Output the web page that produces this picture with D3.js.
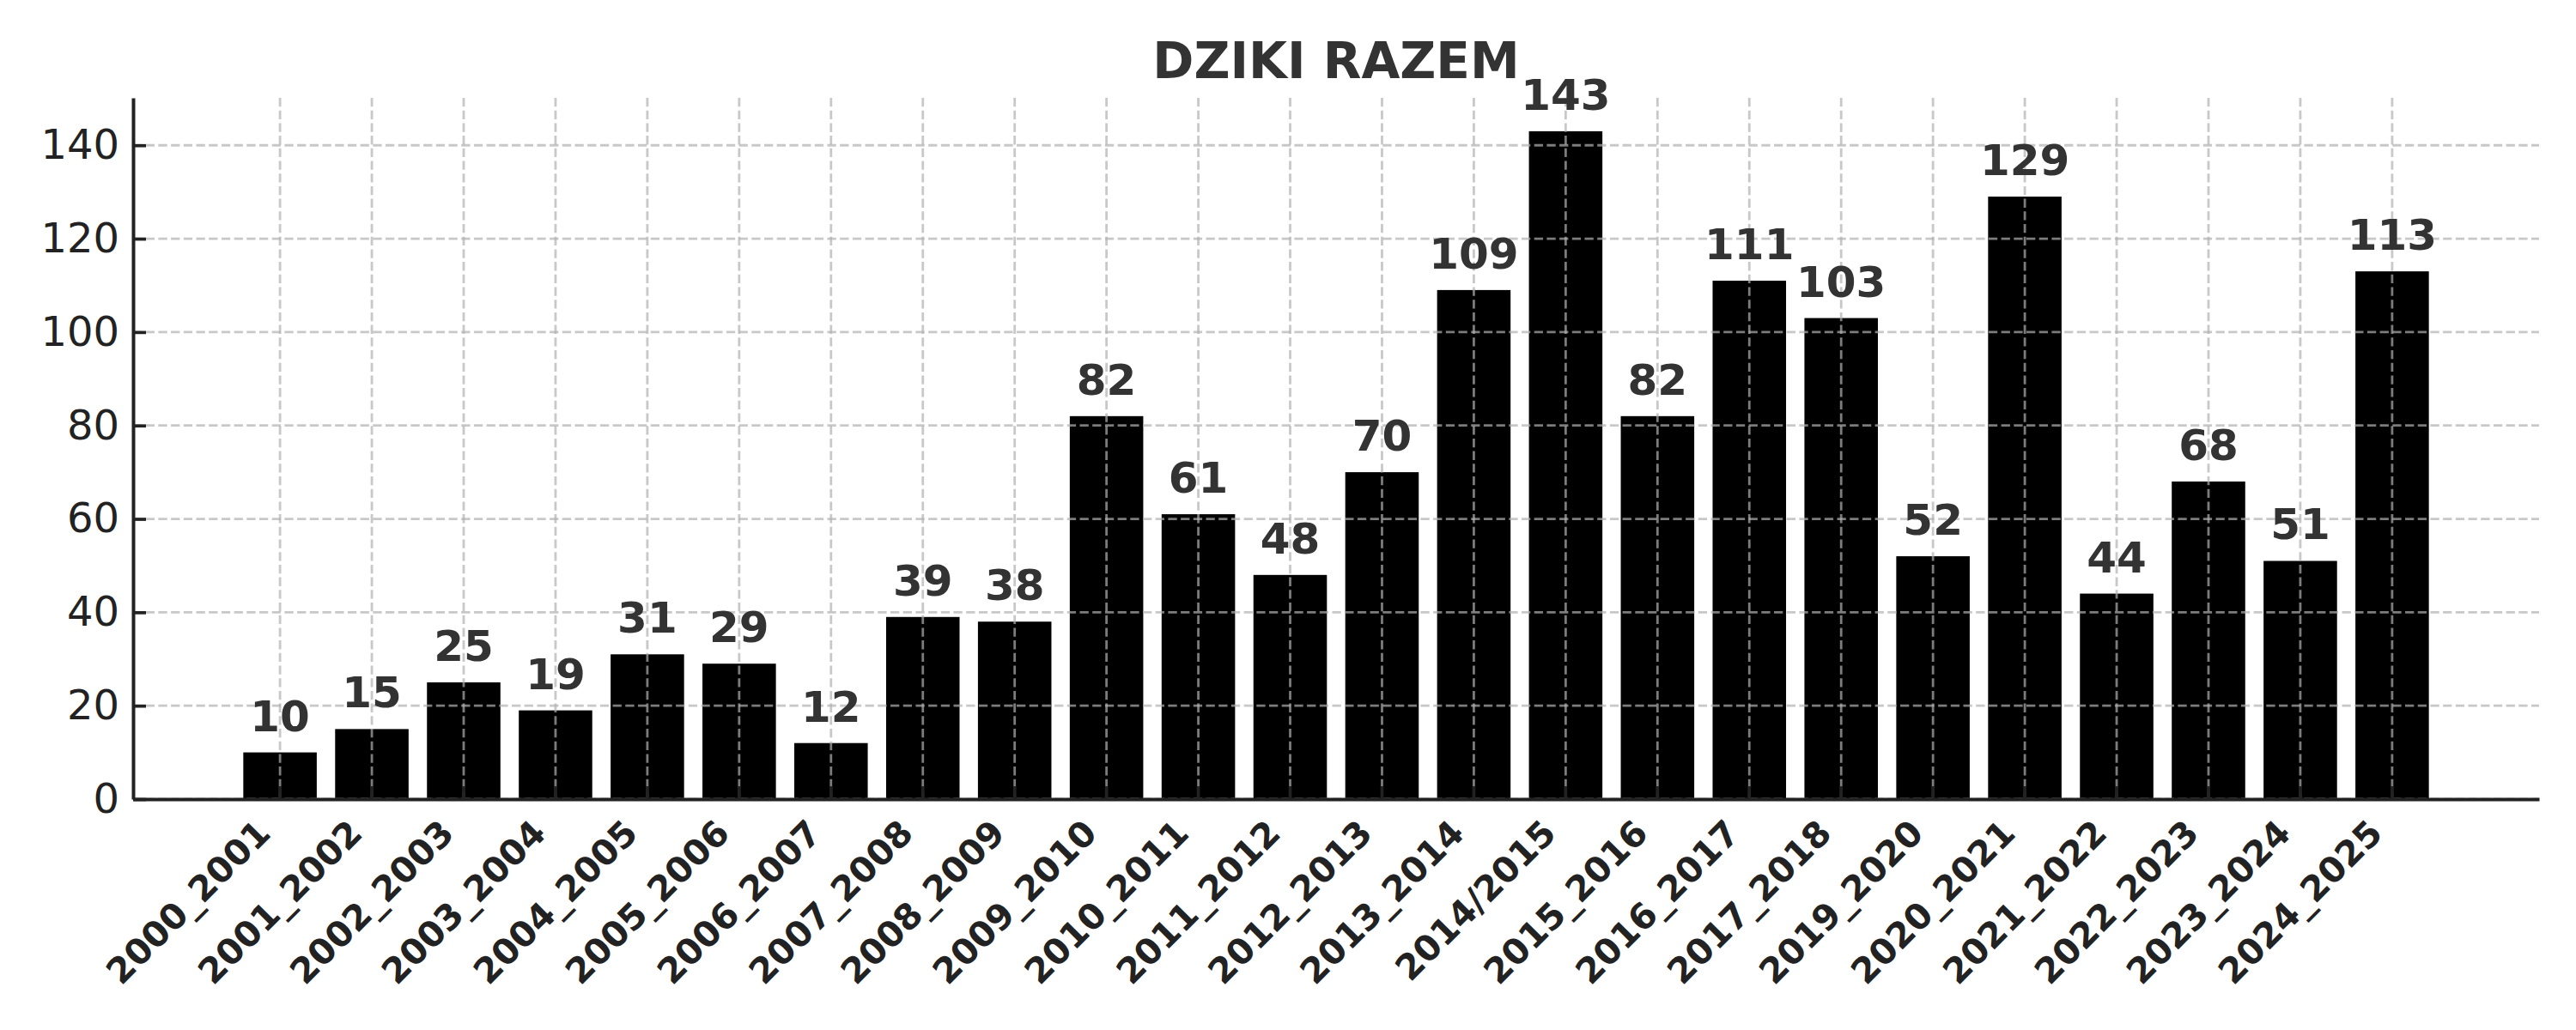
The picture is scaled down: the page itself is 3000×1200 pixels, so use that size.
<!DOCTYPE html>
<html lang="pl">
<head>
    <meta charset="UTF-8">
    <title>DZIKI RAZEM</title>
    <style>
        body { margin: 0; background: #fff; font-family: "DejaVu Sans", sans-serif; }
        svg { display: block; }
    </style>
</head>
<body>
    <div id="chart"></div>
    <script src="https://cdnjs.cloudflare.com/ajax/libs/d3/7.8.5/d3.min.js"></script>
    <script>
        // data
        const seasons = [
            "2000_2001", "2001_2002", "2002_2003", "2003_2004", "2004_2005", "2005_2006",
            "2006_2007", "2007_2008", "2008_2009", "2009_2010", "2010_2011", "2011_2012",
            "2012_2013", "2013_2014", "2014/2015", "2015_2016", "2016_2017", "2017_2018",
            "2019_2020", "2020_2021", "2021_2022", "2022_2023", "2023_2024", "2024_2025"
        ];
        const counts = [10, 15, 25, 19, 31, 29, 12, 39, 38, 82, 61, 48, 70, 109, 143, 82, 111, 103, 52, 129, 44, 68, 51, 113];
        const yTicks = [0, 20, 40, 60, 80, 100, 120, 140];
        const chartTitle = "DZIKI RAZEM";

        const W = 3000, H = 1200;
        const plotLeft = 155, plotRight = 2957, plotTop = 114, plotBottom = 931;

        const svg = d3.select("#chart").append("svg")
            .attr("width", W)
            .attr("height", H);

        svg.append("rect").attr("width", W).attr("height", H).attr("fill", "#fff");

        const x = d3.scaleBand()
            .domain(seasons)
            .range([plotLeft, plotRight])
            .paddingInner(0.2)
            .paddingOuter(1.2);

        const y = d3.scaleLinear()
            .domain([0, d3.max(counts) * 1.05])
            .range([plotBottom, plotTop]);

        const rows = seasons.map((s, i) => ({ season: s, value: counts[i] }));
        const cx = d => x(d) + x.bandwidth() / 2;

        // bars
        svg.append("g").selectAll("rect")
            .data(rows)
            .enter()
            .append("rect")
            .attr("x", d => x(d.season))
            .attr("y", d => y(d.value))
            .attr("width", x.bandwidth())
            .attr("height", d => y(0) - y(d.value))
            .attr("fill", "#000");

        // grid, drawn over the bars like the original
        const grid = svg.append("g")
            .attr("stroke", "#b0b0b0")
            .attr("stroke-opacity", 0.7)
            .attr("stroke-width", 2.8)
            .attr("stroke-dasharray", "10.3,4.4");

        grid.selectAll("line.h")
            .data(yTicks)
            .enter()
            .append("line")
            .attr("class", "h")
            .attr("x1", plotLeft).attr("x2", plotRight)
            .attr("y1", d => y(d)).attr("y2", d => y(d));

        grid.selectAll("line.v")
            .data(seasons)
            .enter()
            .append("line")
            .attr("class", "v")
            .attr("x1", cx).attr("x2", cx)
            .attr("y1", plotTop).attr("y2", plotBottom);

        // y axis
        const yAxis = svg.append("g")
            .attr("transform", `translate(${plotLeft},0)`)
            .call(d3.axisLeft(y).tickValues(yTicks).tickSizeInner(-15).tickSizeOuter(0).tickPadding(16));

        yAxis.select(".domain").attr("stroke", "#222").attr("stroke-width", 4);
        yAxis.selectAll(".tick line").attr("stroke", "#222").attr("stroke-width", 3.7);
        yAxis.selectAll(".tick text")
            .attr("fill", "#222")
            .attr("font-family", "DejaVu Sans")
            .attr("font-size", 48);

        // x axis
        const xAxis = svg.append("g")
            .attr("transform", `translate(0,${plotBottom})`)
            .call(d3.axisBottom(x).tickSizeInner(-15).tickSizeOuter(0));

        xAxis.select(".domain").attr("stroke", "#222").attr("stroke-width", 4);
        xAxis.selectAll(".tick line").attr("stroke", "#222").attr("stroke-width", 3.7);
        xAxis.selectAll(".tick text")
            .attr("x", null)
            .attr("y", null)
            .attr("dy", null)
            .attr("text-anchor", "end")
            .attr("transform", "translate(-9,42) rotate(-45)")
            .attr("fill", "#222")
            .attr("font-family", "DejaVu Sans")
            .attr("font-weight", "bold")
            .attr("font-size", 41);

        // value labels
        svg.append("g").selectAll("text")
            .data(rows)
            .enter()
            .append("text")
            .attr("x", d => cx(d.season))
            .attr("y", d => y(d.value) - 25)
            .attr("text-anchor", "middle")
            .attr("fill", "#333")
            .attr("font-family", "DejaVu Sans")
            .attr("font-weight", "bold")
            .attr("font-size", 50)
            .text(d => d.value);

        // title
        svg.append("text")
            .attr("x", (plotLeft + plotRight) / 2)
            .attr("y", 91)
            .attr("text-anchor", "middle")
            .attr("fill", "#333")
            .attr("font-family", "DejaVu Sans")
            .attr("font-weight", "bold")
            .attr("font-size", 58)
            .text(chartTitle);
    </script>
</body>
</html>
